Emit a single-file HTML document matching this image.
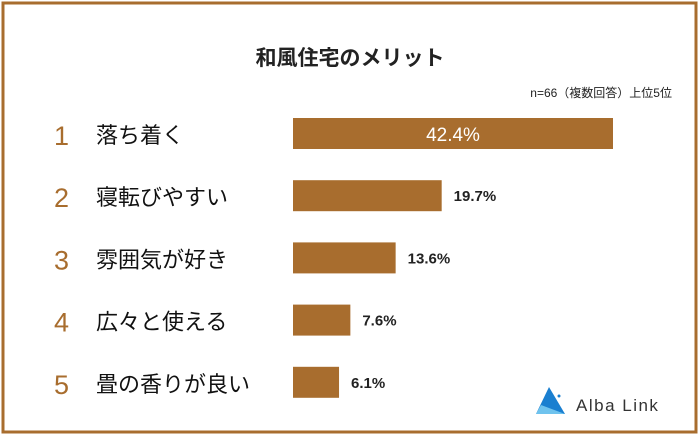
<!DOCTYPE html>
<html><head><meta charset="utf-8"><style>
body{margin:0;background:#fff;width:700px;height:437px;overflow:hidden}
svg{display:block;font-family:"Liberation Sans","Noto Sans CJK JP",sans-serif}
</style></head><body>
<svg width="700" height="437">
<rect x="3" y="3" width="693" height="429" fill="#fff" stroke="#a86d2e" stroke-width="3"/>
<text x="350" y="65" text-anchor="middle" font-size="21" font-weight="bold" fill="#222">和風住宅のメリット</text>
<text x="672" y="97" text-anchor="end" font-size="12" fill="#222">n=66（複数回答）上位5位</text>
<g id="bars"></g>
<g>
<polygon points="549,387 536,414 565,414" fill="#1a7fd0"/>
<polygon points="541,405 565,414 536,414" fill="#6fc3ee"/>
<circle cx="559" cy="396" r="1.5" fill="#1a7fd0"/>
<text x="576" y="411" font-size="17" fill="#333" letter-spacing="1.5">Alba Link</text>
</g>
</svg>
<script>
const categories=["落ち着く","寝転びやすい","雰囲気が好き","広々と使える","畳の香りが良い"];
const values=[42.4,19.7,13.6,7.6,6.1];
const labels=["42.4%","19.7%","13.6%","7.6%","6.1%"];
const x0=293, scale=320/42.4;
const xs=v=>v*scale;
const ys=i=>118+i*62.2;
const g=document.getElementById('bars');
const NS="http://www.w3.org/2000/svg";
categories.forEach((c,i)=>{
 const y=ys(i);
 const n=document.createElementNS(NS,'text');
 
 
 n.setAttribute('x',54);n.setAttribute('y',y+27);n.setAttribute('font-size',27);n.setAttribute('fill','#a86d2e');
 n.textContent=String(i+1);g.appendChild(n);
 const t=document.createElementNS(NS,'text');
 
 
 t.setAttribute('x',96);t.setAttribute('y',y+25);t.setAttribute('font-size',22);t.setAttribute('fill','#111');
 t.textContent=c;g.appendChild(t);
 const r=document.createElementNS(NS,'rect');
 
 
 r.setAttribute('x',x0);r.setAttribute('y',y);r.setAttribute('width',xs(values[i]));r.setAttribute('height',31);r.setAttribute('fill','#a86d2e');
 g.appendChild(r);
 const l=document.createElementNS(NS,'text');
 
 
 if(i===0){l.setAttribute('x',x0+xs(values[i])/2);l.setAttribute('text-anchor','middle');l.setAttribute('fill','#fff');l.setAttribute('font-size',19);l.setAttribute('y',y+23);}
 else{l.setAttribute('x',x0+xs(values[i])+12);l.setAttribute('fill','#222');l.setAttribute('font-size',15);l.setAttribute('font-weight','bold');l.setAttribute('y',y+21);}
 l.textContent=labels[i];g.appendChild(l);
});
</script>
</body></html>
